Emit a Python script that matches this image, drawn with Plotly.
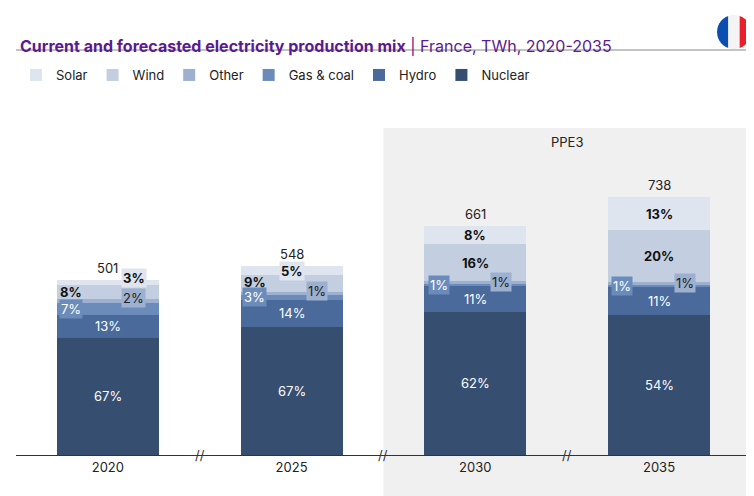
import numpy as np
import plotly.graph_objects as go

years = ["2020", "2025", "2030", "2035"]
totals = [501, 548, 661, 738]
nuclear = [335, 367, 410, 399]
hydro = [65, 77, 73, 81]
gas_coal = [35, 16, 7, 7]
other = [10, 5, 7, 7]
wind = [40, 49, 106, 148]
solar = [16, 27, 53, 96]
pct = {
    "Nuclear": ["67%", "67%", "62%", "54%"],
    "Hydro": ["13%", "14%", "11%", "11%"],
    "Gas & coal": ["7%", "3%", "1%", "1%"],
    "Other": ["2%", "1%", "1%", "1%"],
    "Wind": ["8%", "9%", "16%", "20%"],
    "Solar": ["3%", "5%", "8%", "13%"],
}

series = [("Nuclear", nuclear, "#364e6f"), ("Hydro", hydro, "#4a6a9b"),
          ("Gas & coal", gas_coal, "#6b8cba"), ("Other", other, "#9db0cf"),
          ("Wind", wind, "#c3cee0"), ("Solar", solar, "#dfe5ef")]

W, H = 754, 496
L, R, T, B = 8, 8, 120, 49
FONT = "Inter"

def px2paper(px, py):
    return (px - L) / (W - L - R), 1 - (py - T) / (H - T - B)

fig = go.Figure()
xs = list(range(len(years)))
for name, vals, col in series:
    fig.add_bar(x=xs, y=vals, name=name, marker_color=col, marker_line_width=0, width=0.555)

# segment labels: (dx offset in x units, bold, text colour, box)
style = {
    "Nuclear": [(0, False, "white", False)] * 4,
    "Hydro": [(0, False, "white", False)] * 4,
    "Gas & coal": [(-0.2, False, "white", True)] * 4,
    "Other": [(0.14, False, "#222", True)] * 4,
    "Wind": [(-0.2, True, "#111", False), (-0.2, True, "#111", False), (0, True, "#111", False), (0, True, "#111", False)],
    "Solar": [(0.14, True, "#111", True), (0, True, "#111", True), (0, True, "#111", False), (0, True, "#111", False)],
}
base = [0] * 4
extra_y = {("Other", 0): 8, ("Solar", 0): 12, ("Wind", 0): 2,
           ("Other", 1): 6, ("Wind", 1): 4}
for name, vals, col in series:
    for i, v in enumerate(vals):
        dx, bold, tc, box = style[name][i]
        y = base[i] + v / 2 + extra_y.get((name, i), 0)
        txt = f"<b>{pct[name][i]}</b>" if bold else pct[name][i]
        fig.add_annotation(x=i + dx, y=y, text=txt, showarrow=False,
                           font=dict(family=FONT, size=13, color=tc),
                           bgcolor=col if box else None, borderpad=1)
        base[i] += v
for i, t in enumerate(totals):
    fig.add_annotation(x=i, y=base[i], text=str(t), showarrow=False, yanchor="bottom", yshift=2,
                       font=dict(family=FONT, size=13, color="#222"))

# PPE3 shaded area
fig.add_shape(type="rect", xref="x", yref="paper", x0=1.5, x1=3.52, y0=-0.13, y1=1,
              fillcolor="#f0f0f0", line_width=0, layer="below")
fig.add_annotation(x=2.5, y=1, yref="paper", text="PPE3", showarrow=False, yanchor="top", yshift=-4,
                   font=dict(family=FONT, size=13, color="#222"))
# axis breaks
for bx in [0.5, 1.5, 2.5]:
    fig.add_annotation(x=bx, y=0, text="//", showarrow=False,
                       font=dict(family=FONT, size=13, color="#333"))

# title and header line
fig.add_annotation(xref="paper", yref="paper", x=px2paper(10, 0)[0], y=px2paper(0, 26)[1], xanchor="left",
                   text="<b>Current and forecasted electricity production mix</b> | France, TWh, 2020-2035",
                   showarrow=False, font=dict(family=FONT, size=16, color="#5b1a8f"))
x0, y0 = px2paper(8, 42)
x1, _ = px2paper(746, 42)
fig.add_shape(type="line", xref="paper", yref="paper", x0=x0, x1=x1, y0=y0, y1=y0,
              line=dict(color="#888", width=1))

# flag
cx, cy, r = 726, 24, 17
def seg(a, b):
    xs_ = np.linspace(a, b, 20)
    top = cy - np.sqrt(np.maximum(r**2 - (xs_ - cx) ** 2, 0))
    bot = cy + np.sqrt(np.maximum(r**2 - (xs_ - cx) ** 2, 0))
    pts = list(zip(xs_, top)) + list(zip(xs_[::-1], bot[::-1]))
    return "M " + " L ".join(f"{px2paper(px, py)[0]:.5f},{px2paper(px, py)[1]:.5f}" for px, py in pts) + " Z"
for a, b, c in [(cx - r, cx - r / 3, "#0a4fb0"), (cx - r / 3, cx + r / 3, "#f4f4f4"), (cx + r / 3, cx + r, "#e8202a")]:
    fig.add_shape(type="path", xref="paper", yref="paper", path=seg(a, b), fillcolor=c, line_width=0)

fig.update_layout(
    width=W, height=H, barmode="stack", plot_bgcolor="white", paper_bgcolor="white",
    margin=dict(l=L, r=R, t=T, b=B, autoexpand=False), bargap=0,
    font=dict(family=FONT, size=13, color="#222"),
    legend=dict(orientation="h", traceorder="reversed", x=0.0, y=px2paper(0, 67)[1], yanchor="middle",
                font=dict(family=FONT, size=13, color="#222"), itemwidth=30),
    xaxis=dict(tickmode="array", tickvals=xs, ticktext=years, range=[-0.5, 3.517],
               showline=True, linecolor="#333", ticks="", showgrid=False, zeroline=False, fixedrange=True),
    yaxis=dict(range=[0, 935], visible=False, showgrid=False),
)
fig.write_html("out.html")
